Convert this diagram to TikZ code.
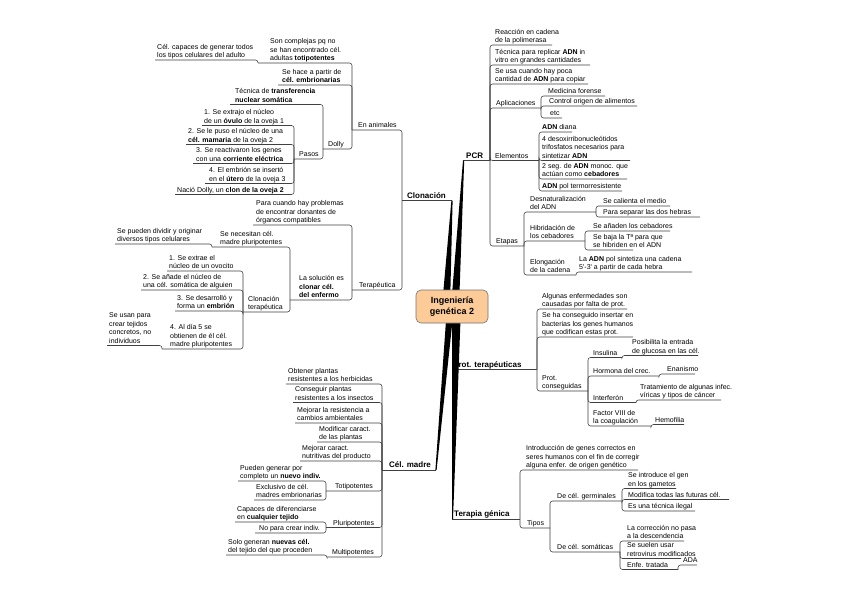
\documentclass[tikz,border=0pt]{standalone}
\usepackage{fontspec}
\newfontfamily\mmfont{Liberation Sans}
\usetikzlibrary{calc}
\definecolor{rootfill}{HTML}{FCCB98}
\tikzset{
 tp/.style={font=\mmfont\fontsize{7}{8.6}\selectfont, align=left, inner xsep=2pt, inner ysep=0.3pt, anchor=south west, execute at end node={\rule[-1.8pt]{0pt}{1pt}}},
 maintp/.style={font=\mmfont\bfseries\fontsize{8}{9.6}\selectfont},
 ln/.style={draw=black!75, line width=0.55pt, rounded corners=2.5pt},
 wedge/.style={fill=black},
 rootbox/.style={draw=black!55, fill=rootfill, line width=0.6pt, rounded corners=5pt, minimum width=72pt, minimum height=33pt, font=\mmfont\bfseries\fontsize{9}{10.5}\selectfont, align=center, inner sep=0pt}
}
\newcommand\mmnode[6][]{%
 \node[tp,#1] (#2) at (#3-2,#4) {#6};
 \coordinate (#2-e) at (#5,#4);}
\begin{document}
\begin{tikzpicture}[x=1pt,y=-1pt]
\fill[white] (0,0) rectangle (848,599);
\useasboundingbox (0,0) rectangle (848,599);
\coordinate (rc) at (452,306.5);
% main topics
\mmnode[maintp]{clon}{407}{200.5}{402}{Clonación}
\coordinate (clon-w) at (452,200.5);
\mmnode[maintp]{pcr}{466}{160.5}{490}{PCR}
\coordinate (pcr-w) at (463,160.5);
\mmnode[maintp]{prot}{453}{369.5}{537}{Prot. terapéuticas}
\coordinate (prot-w) at (452,369.5);
\mmnode[maintp]{ter}{454}{519}{520}{Terapia génica}
\coordinate (ter-w) at (452,519);
\mmnode[maintp]{cel}{389}{470}{382}{Cél. madre}
\coordinate (cel-w) at (436,470);
% Clonacion
\mmnode{anim}{358}{130}{352}{En animales}
\mmnode{tera}{359}{290}{352}{Terapéutica}
\mmnode{sonc}{270}{63}{258}{Son complejas pq no\\se han encontrado cél.\\adultas \textbf{totipotentes}}
\mmnode{celcap}{157}{60}{155}{Cél. capaces de generar todos\\los tipos celulares del adulto}
\mmnode{sehace}{282}{85}{278}{Se hace a partir de\\\textbf{cél. embrionarias}}
\mmnode{dolly}{328}{149}{323}{Dolly}
\mmnode{tecn}{235}{104.5}{230}{Técnica de \textbf{transferencia}\\\textbf{nuclear somática}}
\mmnode{pasos}{299}{159}{294}{Pasos}
\mmnode{p1}{204}{125.5}{202}{1. Se extrajo el núcleo\\de un \textbf{óvulo} de la oveja 1}
\mmnode{p2}{188}{144.5}{186}{2. Se le puso el núcleo de una\\\textbf{cél. mamaria} de la oveja 2}
\mmnode{p3}{196}{163.5}{193}{3. Se reactivaron los genes\\con una \textbf{corriente eléctrica}}
\mmnode{p4}{209}{183.5}{205}{4. El embrión se insertó\\en el \textbf{útero} de la oveja 3}
\mmnode{p5}{177}{194.5}{175}{Nació Dolly, un \textbf{clon de la oveja 2}}
\mmnode{paracu}{256}{225}{253}{Para cuando hay problemas\\de encontrar donantes de\\órganos compatibles}
\mmnode{lasol}{299}{300}{290}{La solución es\\\textbf{clonar cél.}\\\textbf{del enfermo}}
\mmnode{senec}{220}{247}{212}{Se necesitan cél.\\madre pluripotentes}
\mmnode{sepued}{117}{244}{115}{Se pueden dividir y originar\\diversos tipos celulares}
\mmnode{clonter}{248}{312}{243}{Clonación\\terapéutica}
\mmnode{c1}{169}{271}{167}{1. Se extrae el\\núcleo de un ovocito}
\mmnode{c2}{143}{290}{141}{2. Se añade el núcleo de\\una cél. somática de alguien}
\mmnode{c3}{177}{311}{175}{3. Se desarrolló y\\forma un \textbf{embrión}}
\mmnode{c4}{170}{349}{162}{4. Al día 5 se\\obtienen de él cél.\\madre pluripotentes}
\mmnode{seusan}{109}{345.5}{107}{Se usan para\\crear tejidos\\concretos, no\\individuos}
% Cel. madre
\mmnode{m1}{288}{384}{286}{Obtener plantas\\resistentes a los herbicidas}
\mmnode{m2}{295}{402.5}{293}{Conseguir plantas\\resistentes a los insectos}
\mmnode{m3}{297}{423}{295}{Mejorar la resistencia a\\cambios ambientales}
\mmnode{m4}{319}{442}{317}{Modificar caract.\\de las plantas}
\mmnode{m5}{302}{461}{300}{Mejorar caract.\\nutritivas del producto}
\mmnode{toti}{335}{491}{326}{Totipotentes}
\mmnode{pluri}{333}{527.5}{326}{Pluripotentes}
\mmnode{multi}{332}{557}{327}{Multipotentes}
\mmnode{puede}{240}{481}{238}{Pueden generar por\\completo un \textbf{nuevo indiv.}}
\mmnode{exclu}{256}{500}{254}{Exclusivo de cél.\\madres embrionarias}
\mmnode{capac}{237}{522}{235}{Capaces de diferenciarse\\en \textbf{cualquier tejido}}
\mmnode{nopara}{259}{533}{255}{No para crear indiv.}
\mmnode{solo}{228}{555}{226}{Solo generan \textbf{nuevas cél.}\\del tejido del que proceden}
% PCR
\mmnode{reac}{495}{45}{552}{Reacción en cadena\\de la polimerasa}
\mmnode{tecpcr}{495}{65}{590}{Técnica para replicar \textbf{ADN} in\\vitro en grandes cantidades}
\mmnode{seusa}{495}{84}{588}{Se usa cuando hay poca\\cantidad de \textbf{ADN} para copiar}
\mmnode{apli}{496}{108}{541}{Aplicaciones}
\mmnode{elem}{495}{160.5}{539}{Elementos}
\mmnode{etap}{496}{246}{524}{Etapas}
\mmnode{medi}{548}{96}{605}{Medicina forense}
\mmnode{contr}{549}{106}{637}{Control origen de alimentos}
\mmnode{etc}{550}{118}{562}{etc}
\mmnode{adnd}{542}{132}{572}{\textbf{ADN} diana}
\mmnode{desox}{542}{160.5}{630}{4 desoxirribonucleótidos\\trifosfatos necesarios para\\sintetizar \textbf{ADN}}
\mmnode{dosseg}{542}{179}{627}{2 seg. de \textbf{ADN} monoc. que\\actúan como \textbf{cebadores}}
\mmnode{adnpol}{542}{191}{622}{\textbf{ADN} pol termorresistente}
\mmnode{desn}{530}{212}{596}{Desnaturalización\\del ADN}
\mmnode{hibr}{530}{241}{585}{Hibridación de\\los cebadores}
\mmnode{elon}{530}{275}{576}{Elongación\\de la cadena}
\mmnode{secal}{603}{206}{670}{Se calienta el medio}
\mmnode{parasep}{603}{217}{700}{Para separar las dos hebras}
\mmnode{seanad}{593}{231}{670}{Se añaden los cebadores}
\mmnode{sebaja}{593}{250}{633}{Se baja la Tª para que\\se hibriden en el ADN}
\mmnode{ladn}{579}{272}{692}{La \textbf{ADN} pol sintetiza una cadena\\5'-3' a partir de cada hebra}
% Prot. terapeuticas
\mmnode{algun}{542}{309}{627}{Algunas enfermedades son\\causadas por falta de prot.}
\mmnode{seha}{542}{337}{633}{Se ha conseguido insertar en\\bacterias los genes humanos\\que codifican estas prot.}
\mmnode{protc}{542}{391}{588}{Prot.\\conseguidas}
\mmnode{insu}{593}{357.5}{622}{Insulina}
\mmnode{horm}{593}{376}{659}{Hormona del crec.}
\mmnode{inter}{593}{402.5}{636}{Interferón}
\mmnode{fact}{593}{426}{651}{Factor VIII de\\la coagulación}
\mmnode{posib}{632}{355.5}{698}{Posibilita la entrada\\de glucosa en las cél.}
\mmnode{enan}{667}{374}{695}{Enanismo}
\mmnode{trat}{640}{400}{721}{Tratamiento de algunas infec.\\víricas y tipos de cáncer}
\mmnode{hemo}{655}{424.5}{684}{Hemofilia}
% Terapia genica
\mmnode{intro}{526}{470}{638}{Introducción de genes correctos en\\seres humanos con el fin de corregir\\alguna enfer. de origen genético}
\mmnode{tipos}{527}{528}{550}{Tipos}
\mmnode{germ}{557}{501}{622}{De cél. germinales}
\mmnode{soma}{557}{552}{620}{De cél. somáticas}
\mmnode{seintr}{628}{488.5}{676}{Se introduce el gen\\en los gametos}
\mmnode{modif}{628}{499.5}{729}{Modifica todas las futuras cél.}
\mmnode{esuna}{628}{511}{695}{Es una técnica ilegal}
\mmnode{lacorr}{627}{541}{684}{La corrección no pasa\\a la descendencia}
\mmnode{sesuel}{627}{558.5}{681}{Se suelen usar\\retrovirus modificados}
\mmnode{enfe}{627}{569.5}{678}{Enfe. tratada}
\mmnode{ada}{683}{565}{697}{ADA}
% connectors
\foreach \t in {clon,pcr,prot,ter,cel} \draw[ln] (\t-w) -- (\t-e);
\foreach \p/\c in {clon/anim, clon/tera, anim/sonc, anim/sehace, anim/dolly, sonc/celcap,
 dolly/tecn, dolly/pasos, pasos/p1, pasos/p2, pasos/p3, pasos/p4, pasos/p5,
 tera/paracu, tera/lasol, lasol/senec, lasol/clonter, senec/sepued,
 clonter/c1, clonter/c2, clonter/c3, clonter/c4, c4/seusan,
 cel/m1, cel/m2, cel/m3, cel/m4, cel/m5, cel/toti, cel/pluri, cel/multi,
 toti/puede, toti/exclu, pluri/capac, pluri/nopara, multi/solo,
 pcr/reac, pcr/tecpcr, pcr/seusa, pcr/apli, pcr/elem, pcr/etap,
 apli/medi, apli/contr, apli/etc, elem/adnd, elem/desox, elem/dosseg, elem/adnpol,
 etap/desn, etap/hibr, etap/elon, desn/secal, desn/parasep, hibr/seanad, hibr/sebaja, elon/ladn,
 prot/algun, prot/seha, prot/protc, protc/insu, protc/horm, protc/inter, protc/fact,
 insu/posib, horm/enan, inter/trat, fact/hemo,
 ter/intro, ter/tipos, tipos/germ, tipos/soma, germ/seintr, germ/modif, germ/esuna,
 soma/lacorr, soma/sesuel, soma/enfe, enfe/ada}
 \draw[ln] (\p-e) |- (\c-e);
% wedges
\fill[wedge] ($(rc)+(-10,0)$) -- ($(rc)+(-2,0)$) -- ($(clon-w)+(0.6,0)$) -- ($(clon-w)+(-0.6,0)$) -- cycle;
\fill[wedge] ($(rc)+(-1,0)$) -- ($(rc)+(7,0)$) -- ($(pcr-w)+(1.2,0)$) -- (pcr-w) -- cycle;
\fill[wedge] ($(rc)+(-5,0)$) -- ($(rc)+(2,0)$) -- ($(cel-w)+(0.6,0)$) -- ($(cel-w)+(-0.6,0)$) -- cycle;
\fill[wedge] ($(rc)+(1,0)$) -- ($(rc)+(8,0)$) -- ($(prot-w)+(1,0)$) -- (prot-w) -- cycle;
\fill[wedge] ($(rc)+(0,0)$) -- ($(rc)+(9,0)$) -- ($(ter-w)+(1,0)$) -- (ter-w) -- cycle;
% central topic
\node[rootbox] (root) at (rc) {Ingeniería\\genética 2};
\end{tikzpicture}
\end{document}
